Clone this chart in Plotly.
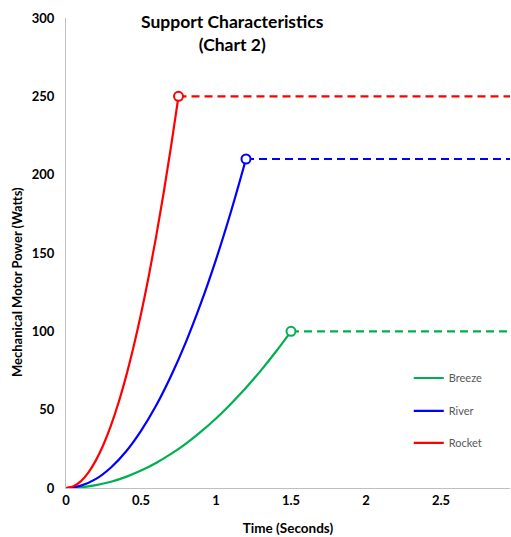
import plotly.graph_objects as go

# Time (s) and mechanical motor power (W)
breeze_t = [0, 0.1, 0.2, 0.3, 0.4, 0.5, 0.6, 0.7, 0.8, 0.9, 1.0, 1.1, 1.2, 1.3, 1.4, 1.5]
breeze_p = [0, 0.4, 1.8, 4, 7.1, 11.1, 16, 21.8, 28.4, 36, 44.4, 53.8, 64, 75.1, 87.1, 100]

river_t = [0, 0.1, 0.2, 0.3, 0.4, 0.5, 0.6, 0.7, 0.8, 0.9, 1.0, 1.1, 1.2]
river_p = [0, 1.5, 5.8, 13.1, 23.3, 36.5, 52.5, 71.5, 93.3, 118.1, 145.8, 176.5, 210]

rocket_t = [0, 0.05, 0.1, 0.15, 0.2, 0.25, 0.3, 0.35, 0.4, 0.45, 0.5, 0.55, 0.6, 0.65, 0.7, 0.75]
rocket_p = [0, 1.1, 4.4, 10, 17.8, 27.8, 40, 54.4, 71.1, 90, 111.1, 134.4, 160, 187.8, 217.8, 250]

x_end = 2.96
names = ["Breeze", "River", "Rocket"]
colors = ["#00b050", "#0000ff", "#ff0000"]
series = [(breeze_t, breeze_p), (river_t, river_p), (rocket_t, rocket_p)]
legends = ["legend", "legend2", "legend3"]
legend_y = [0.234, 0.164, 0.096]

fig = go.Figure()
for name, col, (t, p), lg in zip(names, colors, series, legends):
    fig.add_trace(go.Scatter(x=t, y=p, mode="lines", name=name, legend=lg,
                             line=dict(color=col, width=2.2, shape="spline")))
    fig.add_trace(go.Scatter(x=[t[-1], x_end], y=[p[-1], p[-1]], mode="lines",
                             showlegend=False,
                             line=dict(color=col, width=2.2, dash="8px,5px")))
    fig.add_trace(go.Scatter(x=[t[-1]], y=[p[-1]], mode="markers", showlegend=False,
                             marker=dict(symbol="circle", size=9, color="white",
                                         line=dict(color=col, width=2))))

font_family = "Lato, Open Sans, sans-serif"
leg_common = dict(font=dict(family=font_family, size=11, color="#595959"),
                  bgcolor="rgba(0,0,0,0)", xanchor="left", yanchor="middle",
                  itemwidth=30)
legend_layout = {lg: dict(x=0.772, y=ly, **leg_common) for lg, ly in zip(legends, legend_y)}

fig.update_layout(
    width=511, height=537,
    margin=dict(l=66, r=1, t=18, b=49),
    paper_bgcolor="white", plot_bgcolor="white",
    font=dict(family=font_family, size=13, color="black"),
    xaxis=dict(range=[0, x_end], tickvals=[0, 0.5, 1, 1.5, 2, 2.5],
               ticktext=["0", "0.5", "1", "1.5", "2", "2.5"], automargin=False,
               showgrid=False, zeroline=False, showline=True, linecolor="#bfbfbf",
               linewidth=1, ticks="", tickfont=dict(size=13, family=font_family, weight="bold"),
               title=dict(text="<b>Time (Seconds)</b>", font=dict(size=13.5), standoff=16)),
    yaxis=dict(range=[0, 300], tickvals=[0, 50, 100, 150, 200, 250, 300], automargin=False,
               showgrid=False, zeroline=False, showline=True, linecolor="#bfbfbf",
               linewidth=1, ticks="", ticklabelstandoff=8,
               tickfont=dict(size=13, family=font_family, weight="bold")),
    annotations=[
        dict(text="<b>Support Characteristics<br>(Chart 2)</b>", xref="paper", yref="paper",
             x=(232 - 66) / 444, y=(488 - 9) / 470, xanchor="center", yanchor="top",
             showarrow=False, font=dict(size=17.5, family=font_family, color="black")),
        dict(text="<b>Mechanical Motor Power (Watts)</b>", xref="paper", yref="paper",
             x=(17 - 66) / 444, y=(488 - 282) / 470, xanchor="center", yanchor="middle",
             textangle=-90, showarrow=False,
             font=dict(size=13, family=font_family, color="black")),
    ],
    **legend_layout,
)

fig.write_html("out.html", config={"displayModeBar": False},
               post_script="document.body.style.margin='0px';")
